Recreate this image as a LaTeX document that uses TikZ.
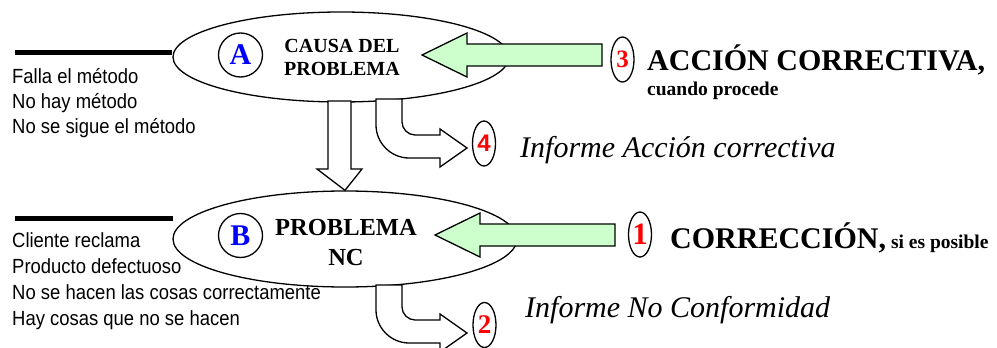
\documentclass[tikz,border=0pt]{standalone}
\usepackage{fontspec}
\setmainfont{Liberation Serif}
\newfontfamily\arialf{Liberation Sans}
\newfontfamily\arialnarrow[FakeStretch=0.9]{Liberation Sans}
\usetikzlibrary{shapes.geometric}
\definecolor{mintfill}{RGB}{204,255,204}
\begin{document}
\begin{tikzpicture}[x=1pt,y=-1pt,
  outline/.style={line width=1.3pt,draw=black},
  bubble/.style={ellipse,outline,fill=white,inner sep=0pt},
  letterdisc/.style={circle,outline,inner sep=0pt,minimum size=44pt,
    text=blue,font=\fontsize{30}{30}\selectfont\bfseries},
  numoval/.style={ellipse,outline,inner sep=0pt,minimum width=23pt,minimum height=45pt,
    text=red},
  greenarrow/.style={outline,fill=mintfill,line join=miter},
  whitearrow/.style={outline,fill=white,line join=miter},
  rootline/.style={line width=5pt},
  causetext/.style={anchor=base west,inner sep=0pt,font=\arialnarrow\fontsize{20.5}{25}\selectfont},
  headline/.style={anchor=base west,inner sep=0pt,font=\fontsize{30}{36}\selectfont\bfseries},
  reporttext/.style={anchor=base west,inner sep=0pt,font=\fontsize{30}{36}\selectfont\itshape}]
\clip (0,0) rectangle (997,348);

% the two main ellipses
\node[bubble,minimum width=336pt,minimum height=90pt] (causa) at (341,57) {};
\node[bubble,minimum width=344pt,minimum height=96pt] (problema) at (345,239) {};

% thick lead lines on the left
\coordinate (leadA) at (15,52);
\coordinate (leadB) at (15,218);
\draw[rootline] (leadA) -- (causa.west |- leadA);
\draw[rootline] (leadB) -- (173,218);

% cause lists
\node[causetext] (fa1) at (12,83) {Falla el método};
\node[causetext] (fa2) at (12,108) {No hay método};
\node[causetext] (fa3) at (12,133) {No se sigue el método};
\node[causetext] (pb1) at (12,247) {Cliente reclama};
\node[causetext] (pb2) at (12,273) {Producto defectuoso};
\node[causetext] (pb3) at (12,299) {No se hacen las cosas correctamente};
\node[causetext] (pb4) at (12,325) {Hay cosas que no se hacen};

% letters and titles inside the ellipses
\node[letterdisc] (la) at (240.5,55) {A};
\node[letterdisc] (lb) at (240.5,235.5) {B};
\node[anchor=base,inner sep=0pt,font=\fontsize{20}{23}\selectfont\bfseries] (ta1) at (342,52) {CAUSA DEL};
\node[anchor=base,inner sep=0pt,font=\fontsize{20}{23}\selectfont\bfseries] (ta2) at (342,75) {PROBLEMA};
\node[anchor=base,inner sep=0pt,font=\fontsize{24.5}{30}\selectfont\bfseries] (tb1) at (346,235) {PROBLEMA};
\node[anchor=base,inner sep=0pt,font=\fontsize{24.5}{30}\selectfont\bfseries] (tb2) at (346,265) {NC};

% hollow arrow from cause to problem
\draw[whitearrow] (328,101) -- (328,169) -- (317,169) -- (problema.north) -- (362,169)
  -- (351,169) -- (351,101) -- cycle;

% bent report arrows
\draw[whitearrow] (376,99) -- (376,125) .. controls (376,143) and (391,158) .. (409,158)
  -- (440,158) -- (440,167) -- (467,148) -- (440,129) -- (440,135) -- (415,135)
  .. controls (408,135) and (402,129) .. (402,122) -- (402,99) -- cycle;
\draw[whitearrow] (376,285) -- (376,310) .. controls (376,328) and (391,343) .. (409,343)
  -- (440,343) -- (440,352) -- (467,333) -- (440,314) -- (440,320) -- (415,320)
  .. controls (408,320) and (402,314) .. (402,307) -- (402,285) -- cycle;

% green action arrows
\draw[greenarrow] (602,44) -- (467,44) -- (467,33) -- (422,55) -- (467,77) -- (467,66)
  -- (602,66) -- cycle;
\draw[greenarrow] (615,224) -- (480,224) -- (480,213) -- (435,235) -- (480,257) -- (480,246)
  -- (615,246) -- cycle;

% numbered ovals
\node[numoval,font=\fontsize{25}{25}\selectfont\bfseries] (n3) at (622.5,59.5) {3};
\node[numoval,font=\arialf\fontsize{24}{24}\selectfont\bfseries] (n4) at (484,143.5) {4};
\node[numoval,font=\fontsize{31}{31}\selectfont\bfseries] (n1) at (640,234.5) {1};
\node[numoval,font=\fontsize{27}{27}\selectfont\bfseries] (n2) at (484.5,325) {2};

% action and report labels
\node[headline] (acc) at (647,70) {ACCIÓN CORRECTIVA,};
\node[anchor=base west,inner sep=0pt,font=\fontsize{19.5}{22}\selectfont\bfseries] (accnote) at (647,95) {cuando procede};
\node[reporttext] (rep4) at (520,157) {Informe Acción correctiva};
\node[headline] (corr) at (670,248) {CORRECCIÓN,\,{\fontsize{19.5}{22}\selectfont si es posible}};
\node[reporttext] (rep2) at (525,317) {Informe No Conformidad};
\end{tikzpicture}
\end{document}
